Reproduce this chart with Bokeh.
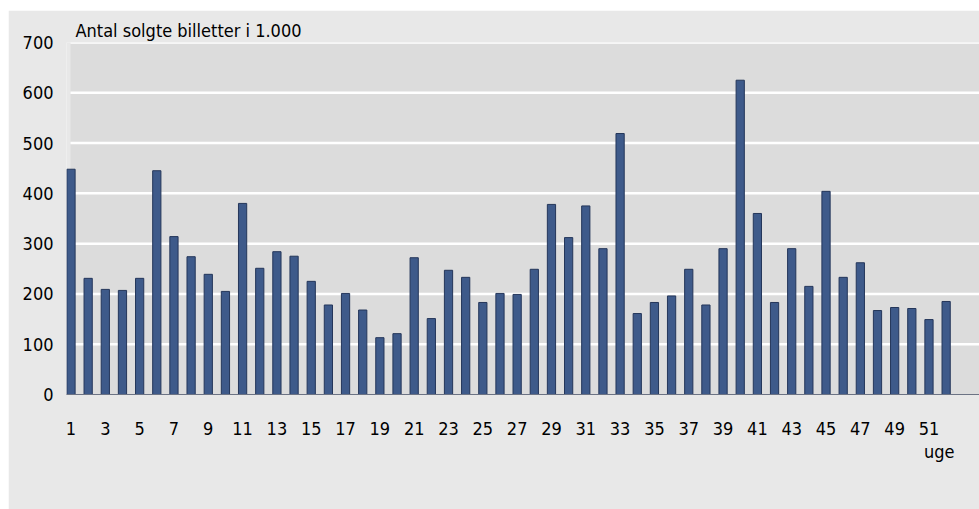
from bokeh.plotting import figure
from bokeh.models import FixedTicker, Range1d, Title, Spacer
from bokeh.layouts import row, column
from bokeh.embed import file_html
from bokeh.resources import INLINE

# ---- data ----
weeks = list(range(1, 53))
tickets = [448, 231, 209, 207, 231, 445, 314, 274, 239, 205,
           380, 251, 284, 275, 225, 178, 201, 168, 113, 121,
           272, 151, 247, 233, 183, 201, 199, 249, 378, 312,
           375, 290, 519, 161, 183, 196, 249, 178, 290, 625,
           360, 183, 290, 215, 404, 233, 262, 167, 173, 171,
           149, 185]
x_ticks = [1, 3, 5, 7, 9, 11, 13, 15, 17, 19, 21, 23, 25, 27, 29, 31, 33, 35,
           37, 39, 41, 43, 45, 47, 49, 51]
y_ticks = [0, 100, 200, 300, 400, 500, 600, 700]
title_text = "Antal solgte billetter i 1.000"
x_label = "uge"

# ---- style ----
OUTER = "#e8e8e8"
PLOT_BG = "#dcdcdc"
BAR = "#3e5a8a"
BAR_EDGE = "#24365a"
FONT = "DejaVu Sans Condensed"

X_START, X_END = 0.738, 53.944
BG_LEFT = 0.971

p = figure(width=971, height=499, output_backend="svg", toolbar_location=None,
           x_range=Range1d(X_START, X_END), y_range=Range1d(0, 700),
           min_border_left=58, min_border_right=0, min_border_top=32,
           min_border_bottom=115)
p.background_fill_color = OUTER
p.border_fill_color = OUTER
p.outline_line_color = None
p.xgrid.grid_line_color = None
p.ygrid.grid_line_color = None

# title
p.title.text = title_text
p.title.align = "left"
p.title.offset = 9
p.title.standoff = 4
p.title.text_font = FONT
p.title.text_font_size = "18px"
p.title.text_font_style = "normal"
p.title.text_color = "black"

# plot-area background and white gridlines
p.quad(left=[BG_LEFT], right=[X_END], bottom=[y_ticks[0]], top=[y_ticks[-1]],
       fill_color=PLOT_BG, line_color=None)
p.segment(x0=[BG_LEFT] * (len(y_ticks) - 1), x1=[X_END] * (len(y_ticks) - 1),
          y0=y_ticks[1:], y1=y_ticks[1:], line_color="white", line_width=2.5)

p.vbar(x=weeks, top=tickets, width=0.48, fill_color=BAR,
       line_color=BAR_EDGE, line_width=1)

# axes
p.yaxis.ticker = FixedTicker(ticks=y_ticks)
p.yaxis.axis_line_color = None
p.yaxis.major_tick_line_color = None
p.yaxis.minor_tick_line_color = None
p.yaxis.major_tick_out = 0
p.yaxis.major_label_standoff = 13
p.yaxis.major_label_text_font = FONT
p.yaxis.major_label_text_font_size = "18px"
p.yaxis.major_label_text_color = "black"

p.xaxis.ticker = FixedTicker(ticks=x_ticks)
p.xaxis.axis_line_color = "#6c7384"
p.xaxis.axis_line_width = 1
p.xaxis.major_tick_line_color = None
p.xaxis.minor_tick_line_color = None
p.xaxis.major_tick_out = 0
p.xaxis.major_label_standoff = 27
p.xaxis.major_label_text_font = FONT
p.xaxis.major_label_text_font_size = "18px"
p.xaxis.major_label_text_color = "black"

p.add_layout(Title(text=x_label, align="right", offset=25, standoff=3,
                   text_font=FONT, text_font_size="18px",
                   text_font_style="normal", text_color="black"), "below")

layout = row(Spacer(width=8), column(Spacer(height=10), p))
open("out.html", "w").write(file_html(layout, INLINE))
